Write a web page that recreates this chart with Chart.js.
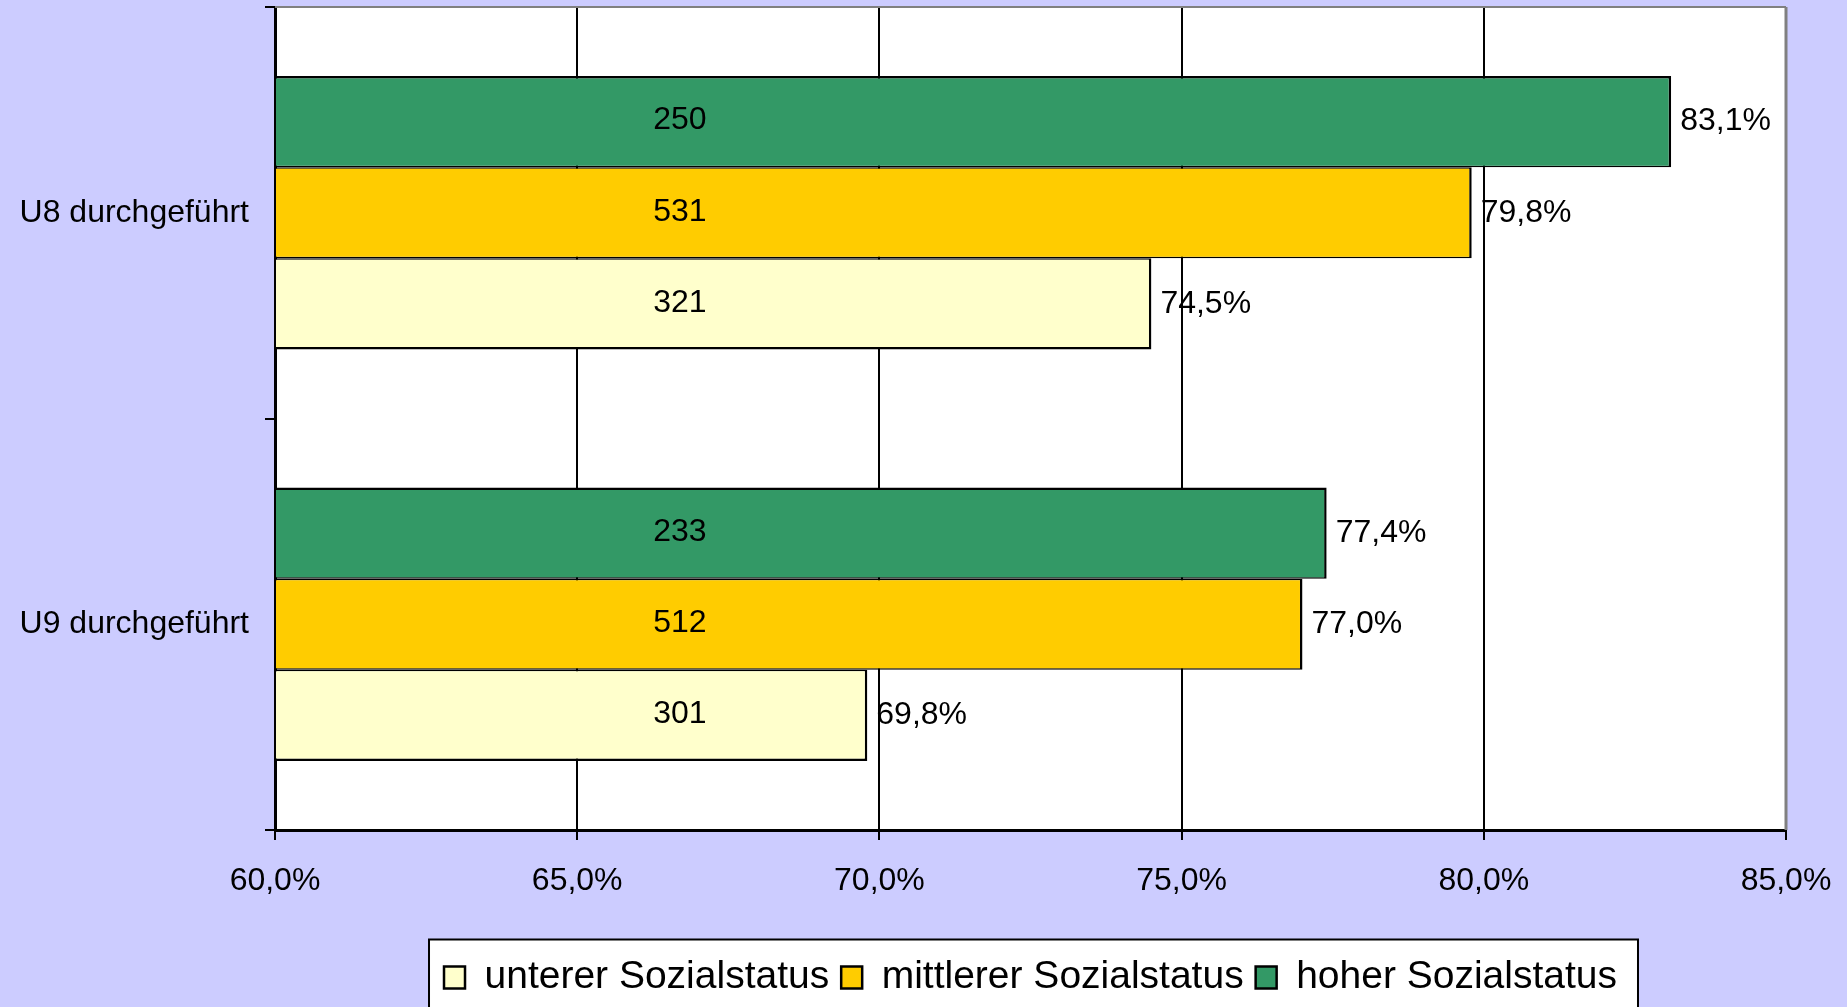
<!DOCTYPE html>
<html>
<head>
<meta charset="utf-8">
<title>U8 / U9 durchgeführt nach Sozialstatus</title>
<script src="https://cdn.jsdelivr.net/npm/chart.js@4.4.1/dist/chart.umd.min.js"></script>
<style>
  html, body { margin: 0; padding: 0; background: #ccccff; overflow: hidden; }
  canvas { display: block; }
</style>
</head>
<body>
<canvas id="myChart" width="1847" height="1007"></canvas>
<script>
// ------------------------------------------------------------------
// DATA
const categories = ['U8 durchgeführt', 'U9 durchgeführt'];
const seriesNames = ['hoher Sozialstatus', 'mittlerer Sozialstatus', 'unterer Sozialstatus'];

const hoherValues = [83.1, 77.4];
const mittlererValues = [79.8, 77.0];
const untererValues = [74.5, 69.8];

// case numbers written inside the bars
const hoherCounts = [250, 233];
const mittlererCounts = [531, 512];
const untererCounts = [321, 301];

const xTicks = [60, 65, 70, 75, 80, 85];
// ------------------------------------------------------------------

const FONT = "'Liberation Sans', Arial, sans-serif";
const COUNT_LABEL_AT = 66.7; // x value where the counts sit
const countsByDataset = [hoherCounts, mittlererCounts, untererCounts];

Chart.defaults.font.family = FONT;
Chart.defaults.color = '#000';

function pct(v) {
  return v.toFixed(1).replace('.', ',') + '%';
}

// ------------------------------------------------------------------
// background, legend frame, bar labels, plot border
const decorPlugin = {
  id: 'decor',
  beforeDraw(chart) {
    const { ctx, chartArea: a, width, height } = chart;
    ctx.save();
    ctx.fillStyle = '#ccccff';
    ctx.fillRect(0, 0, width, height);
    ctx.fillStyle = '#ffffff';
    ctx.fillRect(a.left, a.top, a.right - a.left, a.bottom - a.top);

    const boxes = chart.legend.legendHitBoxes;
    if (boxes && boxes.length) {
      const left = Math.min(...boxes.map(b => b.left)) - 15;
      const right = Math.max(...boxes.map(b => b.left + b.width)) + 21;
      const top = boxes[0].top + boxes[0].height / 2 - 38;
      ctx.fillStyle = '#ffffff';
      ctx.fillRect(left, top, right - left, height - top + 20);
      ctx.strokeStyle = '#000';
      ctx.lineWidth = 2;
      ctx.strokeRect(left, top, right - left, height - top + 20);
    }
    ctx.restore();
  },
  afterDatasetsDraw(chart) {
    const { ctx } = chart;
    const xScale = chart.scales.x;
    ctx.save();
    ctx.font = `32px ${FONT}`;
    ctx.fillStyle = '#000';
    ctx.textBaseline = 'middle';
    chart.data.datasets.forEach((ds, di) => {
      const meta = chart.getDatasetMeta(di);
      meta.data.forEach((bar, i) => {
        ctx.textAlign = 'left';
        ctx.fillText(pct(ds.data[i]), bar.x + 9, bar.y);
        ctx.textAlign = 'center';
        ctx.fillText(String(countsByDataset[di][i]), xScale.getPixelForValue(COUNT_LABEL_AT), bar.y - 1);
      });
    });
    ctx.restore();
  },
  afterDraw(chart) {
    const { ctx, chartArea: a } = chart;
    ctx.save();
    ctx.strokeStyle = '#808080';
    ctx.lineWidth = 2;
    ctx.beginPath();
    ctx.moveTo(a.left, a.top);
    ctx.lineTo(a.right, a.top);
    ctx.stroke();
    ctx.lineWidth = 3;
    ctx.beginPath();
    ctx.moveTo(a.right, a.top);
    ctx.lineTo(a.right, a.bottom);
    ctx.stroke();
    ctx.restore();
  }
};

// ------------------------------------------------------------------
// CHART
const config = {
  type: 'bar',
  data: {
    labels: categories,
    datasets: [
      { label: seriesNames[0], data: hoherValues, backgroundColor: '#339966',
        borderWidth: { top: 2.5, bottom: 1.5, left: 0, right: 2.5 } },
      { label: seriesNames[1], data: mittlererValues, backgroundColor: '#ffcc00',
        borderWidth: { top: 1.5, bottom: 1.5, left: 0, right: 2.5 } },
      { label: seriesNames[2], data: untererValues, backgroundColor: '#ffffcc',
        borderWidth: { top: 1.5, bottom: 2.5, left: 0, right: 2.5 } },
    ].map(ds => ({
      ...ds,
      base: 60,
      borderColor: '#000',
      borderSkipped: false,
      categoryPercentage: 0.665,
      barPercentage: 1,
    })),
  },
  options: {
    indexAxis: 'y',
    responsive: false,
    animation: false,
    devicePixelRatio: 1,
    layout: { padding: { top: 7, right: 61, left: 0, bottom: 0 } },
    plugins: {
      tooltip: { enabled: false },
      legend: {
        position: 'bottom',
        fullSize: false,
        reverse: true,
        labels: {
          font: { size: 39 },
          color: '#000',
          boxWidth: 21,
          boxHeight: 22,
          padding: 12,
          generateLabels: (chart) => {
            const items = Chart.defaults.plugins.legend.labels.generateLabels(chart);
            items.forEach(item => { item.lineWidth = 2.5; item.strokeStyle = '#000'; });
            return items;
          },
        },
      },
    },
    scales: {
      x: {
        type: 'linear',
        min: 60,
        max: 85,
        afterBuildTicks: (scale) => {
          scale.ticks = xTicks.map(v => ({ value: v }));
        },
        afterFit: (scale) => {
          scale.height = 116;
          scale.paddingLeft = 0;
          scale.paddingRight = 0;
        },
        ticks: {
          font: { size: 32 },
          color: '#000',
          padding: 22,
          callback: (v) => pct(v),
        },
        grid: {
          color: (c) => (c.tick && c.tick.value === 85 ? '#808080' : '#000'),
          lineWidth: 2,
          tickColor: '#000',
          tickLength: 10,
        },
        border: { color: '#000', width: 3 },
      },
      y: {
        type: 'category',
        offset: true,
        afterFit: (scale) => {
          scale.width = 275;
          scale.paddingTop = 0;
          scale.paddingBottom = 0;
        },
        ticks: {
          font: { size: 32 },
          color: '#000',
          padding: 16,
        },
        grid: {
          offset: true,
          drawOnChartArea: false,
          color: '#000',
          lineWidth: 2,
          tickLength: 10,
        },
        border: { color: '#000', width: 3 },
      },
    },
  },
  plugins: [decorPlugin],
};

const myChart = new Chart(document.getElementById('myChart'), config);
</script>
</body>
</html>
